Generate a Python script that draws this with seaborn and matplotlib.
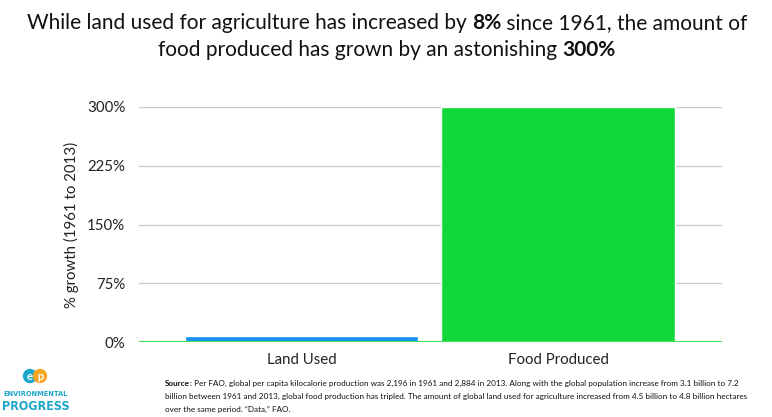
import matplotlib
matplotlib.use("Agg")
import matplotlib.pyplot as plt
import seaborn as sns
import pandas as pd
from matplotlib.patches import Circle

categories = ["Land Used", "Food Produced"]
growth = [8, 300]
bar_colors = ["#1390f2", "#10d83a"]
yticks = [0, 75, 150, 225, 300]
ytick_labels = ["0%", "75%", "150%", "225%", "300%"]

sns.set_theme(style="white")
plt.rcParams['font.family'] = ['Lato', 'DejaVu Sans']

W, H = 772, 417
fig = plt.figure(figsize=(W/100, H/100), dpi=100)
ax = fig.add_axes([139/W, 1-342/H, (722-139)/W, (342-107)/H])

df = pd.DataFrame({"cat": categories, "val": growth})
sns.barplot(data=df, x="cat", y="val", hue="cat", palette=bar_colors,
            width=0.91, ax=ax, legend=False, saturation=1)
ax.set_xlim(-0.635, 1.64)
ax.set_ylim(0, 300)
ax.set_yticks(yticks)
ax.set_yticklabels(ytick_labels)
ax.yaxis.grid(True, color="#cccccc", lw=1)
ax.set_axisbelow(True)
ax.axhline(0, color="#3ee05a", lw=1.5, zorder=5)
for s in ax.spines.values():
    s.set_visible(False)
ax.tick_params(axis="both", length=0, labelsize=10.8, colors="#222222")
ax.tick_params(axis="y", pad=10)
ax.tick_params(axis="x", pad=8)
ax.set_xlabel("")
ax.set_ylabel("% growth (1961 to 2013)", fontsize=10.8, color="#222222", labelpad=6)

def rich_line(segments, y, size, center_x=None, left_x=None, color="#111111"):
    r = fig.canvas.get_renderer()
    texts = []
    for s, bold in segments:
        t = fig.text(0, y, s, fontsize=size, fontweight="bold" if bold else "normal",
                     color=color, va="baseline", ha="left")
        texts.append(t)
    widths = [t.get_window_extent(r).width for t in texts]
    total = sum(widths)
    x0 = (center_x - total/2) if center_x is not None else left_x
    x = x0
    for t, w in zip(texts, widths):
        t.set_x(x / W)
        x += w

rich_line([("While land used for agriculture has increased by ", False), ("8%", True),
           (" since 1961, the amount of", False)], 1-29/H, 15.0, center_x=387)
rich_line([("food produced has grown by an astonishing ", False), ("300%", True)],
          1-56/H, 15.0, center_x=387)

rich_line([("Source", True), (": Per FAO, global per capita kilocalorie production was 2,196 in 1961 and 2,884 in 2013. Along with the global population increase from 3.1 billion to 7.2", False)],
          1-386/H, 5.9, left_x=165)
rich_line([("billion between 1961 and 2013, global food production has tripled. The amount of global land used for agriculture increased from 4.5 billion to 4.8 billion hectares", False)],
          1-399/H, 5.9, left_x=165)
rich_line([("over the same period. \u201cData,\u201d FAO.", False)],
          1-412/H, 5.9, left_x=165)

# logo
lax = fig.add_axes([0, 0, 1, 1], zorder=-1)
lax.set_xlim(0, W); lax.set_ylim(H, 0); lax.axis("off")
lax.add_patch(Circle((30, 376), 6.5, color="#1ea6c8"))
lax.add_patch(Circle((40, 376), 6.5, color="#f6a623"))
lax.text(30, 376.5, "e", color="white", fontsize=8, fontweight="bold", ha="center", va="center")
lax.text(40, 376.5, "p", color="white", fontsize=8, fontweight="bold", ha="center", va="center")
lax.text(36, 394, "ENVIRONMENTAL", color="#1ea6c8", fontsize=5.3, fontweight="bold",
         ha="center", va="center", family="DejaVu Sans", stretch="condensed")
lax.text(36, 406, "PROGRESS", color="#1ea6c8", fontsize=9, fontweight="bold",
         ha="center", va="center", family="DejaVu Sans", stretch="condensed")

fig.savefig("out.png", dpi=100, facecolor="white")
